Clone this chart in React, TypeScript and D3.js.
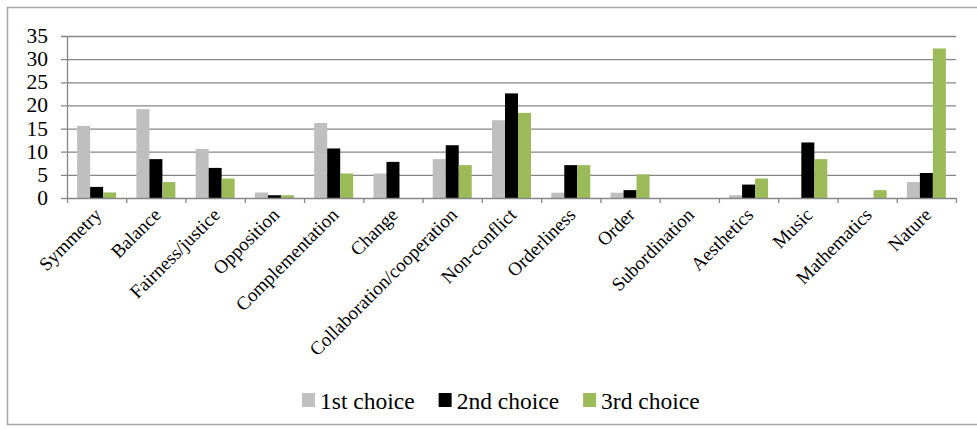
import React, { useEffect, useRef } from 'react';
import * as d3 from 'd3';

const categories = [
  'Symmetry', 'Balance', 'Fairness/justice', 'Opposition', 'Complementation',
  'Change', 'Collaboration/cooperation', 'Non-conflict', 'Orderliness', 'Order',
  'Subordination', 'Aesthetics', 'Music', 'Mathematics', 'Nature',
];
const seriesNames = ['1st choice', '2nd choice', '3rd choice'];
const firstChoice = [15.6, 19.2, 10.6, 1.2, 16.2, 5.3, 8.4, 16.8, 1.15, 1.15, 0, 0.6, 0, 0, 3.45];
const secondChoice = [2.4, 8.4, 6.5, 0.6, 10.7, 7.8, 11.4, 22.6, 7.1, 1.7, 0, 2.9, 12.0, 0, 5.4];
const thirdChoice = [1.2, 3.45, 4.2, 0.6, 5.3, 0, 7.1, 18.4, 7.1, 5.1, 0, 4.2, 8.4, 1.7, 32.3];
const yTicks = [0, 5, 10, 15, 20, 25, 30, 35];
const colors = ['#bfbfbf', '#000000', '#9bbb59'];

const W = 977;
const H = 430;
const FONT = 'Liberation Serif';

const App = () => {
  const ref = useRef<SVGSVGElement>(null);

  useEffect(() => {
    draw();
  });

  const draw = () => {
    const svg = d3.select(ref.current);
    svg.selectAll('*').remove();

    const left = 67, right = 956, top = 36, bottom = 198;
    const values = [firstChoice, secondChoice, thirdChoice];

    const x = d3.scaleBand<string>().domain(categories).range([left, right]).padding(0);
    const xs = d3.scaleBand<string>().domain(seriesNames).range([0, x.bandwidth()])
      .paddingInner(0).paddingOuter(0.78);
    const y = d3.scaleLinear().domain([0, 35]).range([bottom, top]);

    // outer frame
    svg.append('rect')
      .attr('x', 7.5).attr('y', 7.5).attr('width', W).attr('height', 417)
      .attr('fill', 'none').attr('stroke', '#a6a6a6').attr('stroke-width', 1.5);

    // gridlines
    svg.append('g').selectAll('line').data(yTicks.filter((t) => t > 0)).enter().append('line')
      .attr('x1', left - 6).attr('x2', right)
      .attr('y1', (d) => y(d) + 0.5).attr('y2', (d) => y(d) + 0.5)
      .attr('stroke', '#868686').attr('stroke-width', 1.3);

    // bars
    const g = svg.append('g');
    seriesNames.forEach((s, si) => {
      g.selectAll(`.bar${si}`).data(values[si]).enter().append('rect')
        .attr('class', `bar${si}`)
        .attr('x', (d, i) => (x(categories[i]) || 0) + (xs(s) || 0))
        .attr('width', xs.bandwidth())
        .attr('y', (d) => y(d))
        .attr('height', (d) => bottom - y(d))
        .attr('fill', colors[si]);
    });

    // y axis
    svg.append('line').attr('x1', left + 0.5).attr('x2', left + 0.5)
      .attr('y1', top).attr('y2', bottom).attr('stroke', '#868686').attr('stroke-width', 1.3);
    svg.append('line').attr('x1', left - 6).attr('x2', left)
      .attr('y1', bottom + 0.5).attr('y2', bottom + 0.5).attr('stroke', '#868686').attr('stroke-width', 1.3);
    svg.append('g').selectAll('text').data(yTicks).enter().append('text')
      .attr('x', 48).attr('y', (d) => y(d) + 7)
      .attr('text-anchor', 'end')
      .style('font-family', FONT).attr('font-size', 21.5)
      .text((d) => d);

    // x axis
    svg.append('line').attr('x1', left).attr('x2', right)
      .attr('y1', bottom + 0.5).attr('y2', bottom + 0.5).attr('stroke', '#868686').attr('stroke-width', 1.3);
    const bounds = categories.map((c) => x(c) || 0).concat([right]);
    svg.append('g').selectAll('line').data(bounds).enter().append('line')
      .attr('x1', (d) => d + 0.5).attr('x2', (d) => d + 0.5)
      .attr('y1', bottom).attr('y2', bottom + 5)
      .attr('stroke', '#868686').attr('stroke-width', 1.3);
    svg.append('g').selectAll('text').data(categories).enter().append('text')
      .attr('transform', (d) => `translate(${(x(d) || 0) + x.bandwidth() / 2 + 6},${bottom + 18}) rotate(-45)`)
      .attr('text-anchor', 'end')
      .style('font-family', FONT).attr('font-size', 19)
      .text((d) => d);

    // legend
    const legend = svg.append('g');
    let lx = 302;
    seriesNames.forEach((s, si) => {
      legend.append('rect').attr('x', lx).attr('y', 393).attr('width', 13).attr('height', 14)
        .attr('fill', colors[si]);
      const t = legend.append('text').attr('x', lx + 18).attr('y', 409)
        .style('font-family', FONT).attr('font-size', 23.5).text(s);
      const tw = (t.node() as SVGTextElement).getComputedTextLength();
      lx = lx + 18 + tw + 24;
    });
  };

  return (
    <svg ref={ref} width={W} height={H}
      style={{ position: 'absolute', left: 0, top: 0, background: '#fff' }} />
  );
};

export default App;
